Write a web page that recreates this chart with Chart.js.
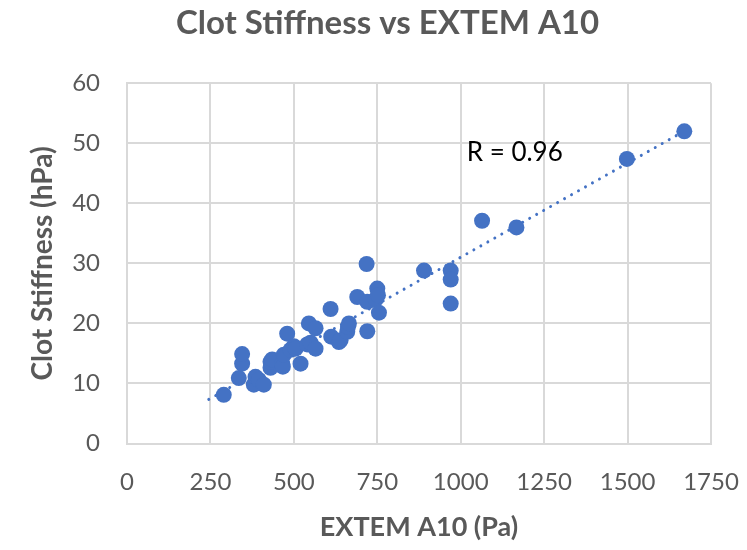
<!DOCTYPE html>
<html>
<head>
<meta charset="utf-8">
<script src="https://cdn.jsdelivr.net/npm/chart.js@4.4.1/dist/chart.umd.min.js"></script>
<style>
  html, body { margin: 0; padding: 0; background: #ffffff; }
  #wrap { width: 747px; height: 550px; }
</style>
</head>
<body>
<div id="wrap"><canvas id="c" width="747" height="550"></canvas></div>
<script>
// EXTEM A10 (Pa)
const a10Values = [290, 335, 345, 345, 380, 385, 395, 410, 430, 430, 435, 465, 467, 470, 480, 490, 500, 505, 520, 540, 545, 550, 565, 565, 610, 612, 635, 640, 660, 662, 665, 690, 718, 720, 720, 745, 750, 752, 755, 890, 970, 970, 970, 1064, 1167, 1498, 1670];
// Clot Stiffness (hPa)
const stiffnessValues = [8.1, 10.9, 13.3, 14.9, 9.8, 11.1, 10.6, 9.8, 12.6, 13.6, 14.0, 13.3, 12.8, 14.8, 18.3, 15.6, 16.2, 15.8, 13.3, 16.5, 20.0, 16.8, 15.8, 19.2, 22.4, 17.8, 16.9, 17.2, 18.6, 19.4, 20.0, 24.4, 29.9, 18.7, 23.6, 24.0, 25.8, 24.7, 21.8, 28.8, 28.8, 27.3, 23.3, 37.1, 36.0, 47.4, 52.0];
// Linear trendline endpoints
const trendX = [245, 1675];
const trendY = [7.35, 52.2];
const xTicks = [0, 250, 500, 750, 1000, 1250, 1500, 1750];
const yTicks = [0, 10, 20, 30, 40, 50, 60];
const rLabel = "R = 0.96";
const rLabelPos = [1018, 48.4];

const scatterData = a10Values.map((x, i) => ({ x: x, y: stiffnessValues[i] }));
const trendData = trendX.map((x, i) => ({ x: x, y: trendY[i] }));

const TEXT = '#595959';
const BLUE = '#4472C4';
const GRID = '#d9d9d9';
const FONT = 'Lato, "Open Sans", sans-serif';

const rLabelPlugin = {
  id: 'rLabel',
  afterDatasetsDraw(chart) {
    const { ctx, scales } = chart;
    ctx.save();
    ctx.font = '26px ' + FONT;
    ctx.fillStyle = '#000000';
    ctx.textAlign = 'left';
    ctx.textBaseline = 'middle';
    ctx.fillText(rLabel, scales.x.getPixelForValue(rLabelPos[0]), scales.y.getPixelForValue(rLabelPos[1]));
    ctx.restore();
  }
};

const bgPlugin = {
  id: 'bg',
  beforeDraw(chart) {
    const { ctx } = chart;
    ctx.save();
    ctx.fillStyle = '#ffffff';
    ctx.fillRect(0, 0, chart.width, chart.height);
    ctx.restore();
  }
};

new Chart(document.getElementById('c'), {
  type: 'scatter',
  data: {
    datasets: [
      {
        type: 'line',
        label: 'Trend',
        data: trendData,
        borderColor: BLUE,
        borderWidth: 3,
        borderDash: [0.01, 8],
        borderCapStyle: 'round',
        pointRadius: 0,
        fill: false,
        order: 2
      },
      {
        label: 'Clot Stiffness',
        data: scatterData,
        backgroundColor: BLUE,
        borderColor: BLUE,
        borderWidth: 0,
        pointRadius: 8,
        pointHoverRadius: 8,
        order: 1
      }
    ]
  },
  options: {
    responsive: false,
    animation: false,
    devicePixelRatio: 1,
    layout: { padding: { left: 64, right: 36, top: 0, bottom: 0 } },
    plugins: {
      legend: { display: false },
      tooltip: { enabled: false },
      title: {
        display: true,
        text: 'Clot Stiffness vs EXTEM A10',
        color: TEXT,
        font: { family: FONT, size: 33, weight: 'bold' },
        padding: { top: 4, bottom: 39.7 }
      }
    },
    scales: {
      x: {
        type: 'linear',
        min: 0,
        max: 1750,
        afterBuildTicks(scale) { scale.ticks = xTicks.map(v => ({ value: v })); },
        afterFit(scale) { scale.height = 106.5; scale.paddingLeft = 0; scale.paddingRight = 0; },
        grid: { color: GRID, lineWidth: 2, drawTicks: false },
        border: { color: GRID, width: 2 },
        ticks: { color: TEXT, font: { family: FONT, size: 24 }, padding: 24, maxRotation: 0, callback: v => String(v) },
        title: {
          display: true,
          text: 'EXTEM A10 (Pa)',
          color: TEXT,
          font: { family: FONT, size: 27, weight: 'bold' },
          padding: { top: 0, bottom: 7 }
        }
      },
      y: {
        type: 'linear',
        min: 0,
        max: 60,
        afterBuildTicks(scale) { scale.ticks = yTicks.map(v => ({ value: v })); },
        afterFit(scale) { scale.width = 63; },
        grid: { color: GRID, lineWidth: 2, drawTicks: false },
        border: { color: GRID, width: 2 },
        ticks: { color: TEXT, font: { family: FONT, size: 24 }, padding: 27, callback: v => String(v) },
        title: {
          display: true,
          text: 'Clot Stiffness (hPa)',
          color: TEXT,
          font: { family: FONT, size: 28, weight: 'bold' },
          padding: { top: -37.8, bottom: 0 }
        }
      }
    }
  },
  plugins: [bgPlugin, rLabelPlugin]
});
</script>
</body>
</html>
